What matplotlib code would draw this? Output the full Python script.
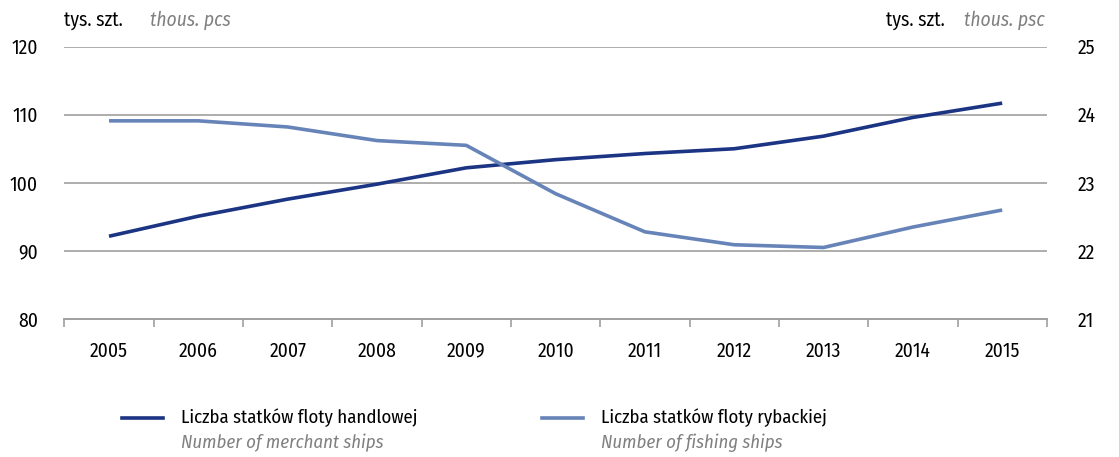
import matplotlib
matplotlib.use("Agg")
import matplotlib.pyplot as plt
from matplotlib.lines import Line2D
import numpy as np

plt.rcParams['font.family'] = ['Fira Sans Condensed', 'DejaVu Sans']

years = ['2005', '2006', '2007', '2008', '2009', '2010', '2011', '2012', '2013', '2014', '2015']
merchant = [92.15, 95.1, 97.6, 99.8, 102.2, 103.4, 104.3, 105.0, 106.85, 109.6, 111.7]
fishing = [23.91, 23.91, 23.82, 23.62, 23.55, 22.84, 22.28, 22.09, 22.05, 22.35, 22.6]

left_ticks = [80, 90, 100, 110, 120]
right_ticks = [21, 22, 23, 24, 25]

dark = '#1b3483'
light = '#6784b9'
grid = '#a0a0a0'
gray_txt = '#808080'
fs = 14

fig = plt.figure(figsize=(11.19, 4.57), dpi=100)
ax = fig.add_axes([0.0575, 0.302, 0.878, 0.596])
ax2 = ax.twinx()

x = np.arange(len(years))
ax.plot(x, merchant, color=dark, lw=2.6, zorder=3, solid_capstyle='butt')
ax2.plot(x, fishing, color=light, lw=2.6, zorder=3, solid_capstyle='butt')

ax.set_xlim(-0.5, len(years) - 0.5)
ax.set_ylim(80, 120)
ax2.set_ylim(21, 25)
ax.set_yticks(left_ticks)
ax2.set_yticks(right_ticks)
for v in left_ticks[1:]:
    ax.axhline(v, color=grid, lw=1.2, zorder=1)

ax.set_xticks(x)
ax.set_xticklabels(years, fontsize=fs)
ax.set_xticks(np.arange(-0.5, len(years)), minor=True)
ax.tick_params(axis='x', which='major', length=0, pad=16)
ax.tick_params(axis='x', which='minor', length=6, color=grid, width=1.2)
ax.tick_params(axis='y', length=0, pad=19, labelsize=fs)
ax2.tick_params(axis='y', length=0, pad=22, labelsize=fs)

for a in (ax, ax2):
    for s in ['top', 'left', 'right']:
        a.spines[s].set_visible(False)
    a.spines['bottom'].set_color(grid)
    a.spines['bottom'].set_linewidth(1.2)

# unit headers
fig.text(64 / 1119, 0.956, 'tys. szt.', fontsize=fs, ha='left', va='center')
fig.text(150 / 1119, 0.956, 'thous. pcs', fontsize=fs, ha='left', va='center',
         style='italic', color=gray_txt)
fig.text(945 / 1119, 0.956, 'tys. szt.', fontsize=fs, ha='right', va='center')
fig.text(1045 / 1119, 0.956, 'thous. psc', fontsize=fs, ha='right', va='center',
         style='italic', color=gray_txt)

# legend
entries = [
    (dark, 'Liczba statków floty handlowej', 'Number of merchant ships', 122),
    (light, 'Liczba statków floty rybackiej', 'Number of fishing ships', 542),
]
for color, pl, en, x0 in entries:
    fig.add_artist(Line2D([x0 / 1119, (x0 + 41) / 1119], [0.085, 0.085], color=color,
                          lw=2.6, transform=fig.transFigure))
    fig.text((x0 + 59) / 1119, 0.085, pl, fontsize=13.5, ha='left', va='center')
    fig.text((x0 + 59) / 1119, 0.031, en, fontsize=13.5, ha='left', va='center',
             style='italic', color=gray_txt)

fig.savefig('out.png', dpi=100)
